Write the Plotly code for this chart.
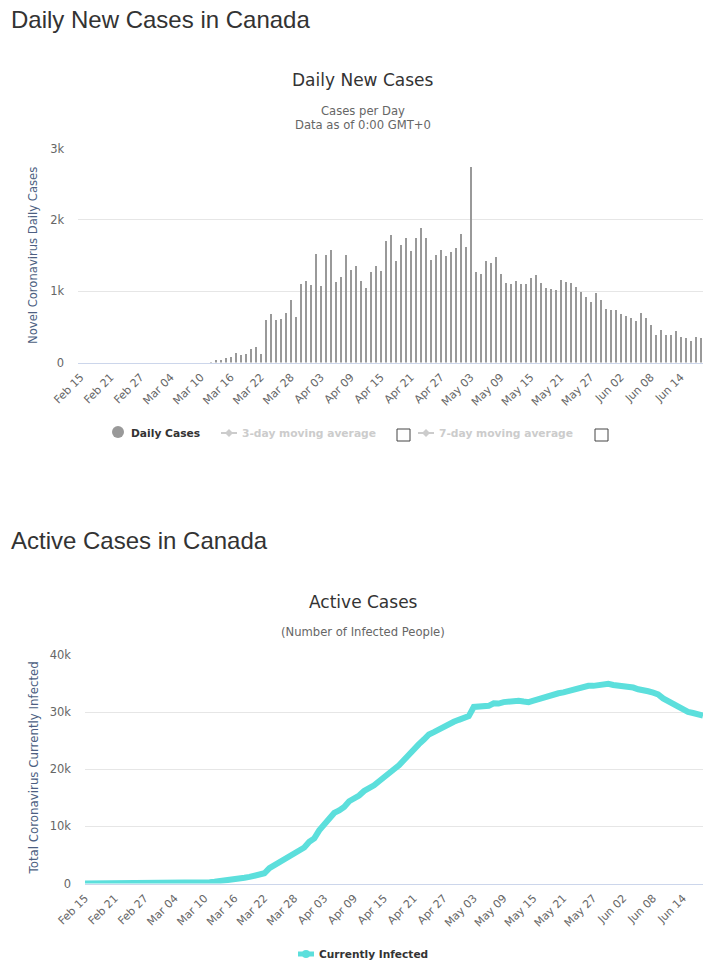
import plotly.graph_objects as go
import pandas as pd

W, H = 715, 966

dates = pd.date_range("2020-02-15", periods=125)
date_labels = [d.strftime("%b %d") for d in dates]
tick_labels = date_labels[::6]

daily_cases = [0]*26 + [
    14, 42, 42, 70, 84, 140, 112, 126, 197, 225, 126, 605, 690, 605, 620, 703, 886, 647,
    1111, 1153, 1097, 1533, 1083, 1519, 1589, 1139, 1210, 1519, 1308, 1364, 1153, 1055,
    1280, 1364, 1294, 1716, 1800, 1434, 1660, 1758, 1575, 1758, 1899, 1758, 1448, 1519,
    1589, 1505, 1561, 1617, 1815, 1632, 2745, 1280, 1252, 1434, 1406, 1491, 1252, 1125,
    1111, 1153, 1111, 1111, 1195, 1238, 1125, 1055, 1040, 1026, 1167, 1139, 1125, 1069,
    1000, 928, 858, 985, 886, 760, 745, 745, 689, 661, 633, 590, 703, 633, 534, 394, 464,
    394, 394, 450, 366, 352, 309, 366, 352]
daily_cases = daily_cases[:125]

active_cases = [10, 10, 10, 10, 10, 10, 10, 20, 20, 20, 20, 20, 20, 25, 25, 30, 30, 35, 40, 50,
    60, 80, 100, 150, 200, 240, 300, 380, 480, 580, 700, 850, 1000, 1150, 1350, 1550, 1800,
    2700, 3200, 3650, 4100, 4800, 5400, 5800, 6300, 7300, 7900, 9300, 10300, 11300, 12350, 12800,
    13400, 14400, 14800, 15400, 16200, 16600, 17200, 17900, 18500, 19300, 20000, 20700, 21700,
    22700, 23600, 24400, 25200, 26100, 26500, 27000, 27600, 28000, 28300, 28650, 28950, 29300,
    30900, 31000, 31050, 31100, 31550, 31500, 31750, 31900, 32000, 32000, 31850, 31750, 32000,
    32300, 32600, 32900, 33100, 33300, 33450, 33650, 33950, 34300, 34500, 34600, 34600, 34800,
    34900, 34950, 34750, 34650, 34650, 34550, 34300, 34000, 33700, 33650, 33400, 33100, 32400,
    31900, 31500, 31050, 30550, 30050, 29850, 29650, 29400]
active_cases = active_cases[:125]

y_ticks_daily = [0, 1000, 2000, 3000]
y_labels_daily = ["0", "1k", "2k", "3k"]
y_ticks_active = [0, 10000, 20000, 30000, 40000]
y_labels_active = ["0", "10k", "20k", "30k", "40k"]

TXT = "#666666"
AX_TITLE = "#4d5f82"
FONT = "DejaVu Sans"
HEAD = "Liberation Sans"
TEAL = "#5cdfdc"

def px(x): return x / W
def py(y): return 1 - y / H

fig = go.Figure()
fig.add_bar(x=date_labels, y=daily_cases, marker=dict(color="#999999", line_width=0),
            width=0.4, xaxis="x", yaxis="y", showlegend=False)
fig.add_scatter(x=date_labels, y=active_cases, mode="lines",
                line=dict(color=TEAL, width=6, shape="linear"),
                xaxis="x2", yaxis="y2", showlegend=False)

def xa(dom):
    return dict(domain=dom, type="category", categoryorder="array", categoryarray=date_labels,
                tickmode="array", tickvals=tick_labels, ticktext=tick_labels, tickangle=-45,
                tickfont=dict(family=FONT, size=11, color=TXT), showgrid=False, zeroline=False,
                showline=True, linecolor="#ccd6eb", linewidth=1, ticks="", automargin=False,
                ticklabelstandoff=3)

def ya(dom, rng, tv, tt):
    return dict(domain=dom, range=rng, tickmode="array", tickvals=tv, ticktext=tt,
                tickfont=dict(family=FONT, size=11.5, color=TXT), showgrid=True, gridcolor="#e6e6e6",
                gridwidth=1, zeroline=False, showline=False, ticks="", automargin=False,
                ticklabelstandoff=13)

ann = []
def text(x, y, s, size, color, anchor="center", family=FONT, bold=False, angle=0):
    ann.append(dict(x=px(x), y=py(y), xref="paper", yref="paper", text=f"<b>{s}</b>" if bold else s,
                    showarrow=False, xanchor=anchor, yanchor="middle", textangle=angle,
                    font=dict(family=family, size=size, color=color)))

text(9, 20, "Daily New Cases in Canada", 24, "#333333", "left", HEAD)
text(9, 540, "Active Cases in Canada", 24, "#333333", "left", HEAD)
text(363, 80, "Daily New Cases", 17, "#333333")
text(363, 111, "Cases per Day", 11.6, TXT)
text(363, 125, "Data as of 0:00 GMT+0", 11.6, TXT)
text(363, 602, "Active Cases", 17, "#333333")
text(363, 632, "(Number of Infected People)", 11.6, TXT)
text(33, 256, "Novel Coronavirus Daily Cases", 11.6, AX_TITLE, angle=-90)
text(33, 768.5, "Total Coronavirus Currently Infected", 11.8, AX_TITLE, angle=-90)

text(129, 433, "Daily Cases", 10.7, "#333333", "left", bold=True)
text(240, 433, "3-day moving average", 10.7, "#cccccc", "left", bold=True)
text(437, 433, "7-day moving average", 10.7, "#cccccc", "left", bold=True)
text(317, 954, "Currently Infected", 10.6, "#333333", "left", bold=True)

shapes = []
def sh(kind, x0, y0, x1, y1, **kw):
    shapes.append(dict(type=kind, xref="paper", yref="paper", x0=px(x0), x1=px(x1),
                       y0=py(y0), y1=py(y1), **kw))
sh("circle", 112, 426, 124, 438, fillcolor="#999999", line_width=0)
for a, b in [(221, 237), (418, 434)]:
    c = (a + b) / 2
    sh("line", a, 433, b, 433, line=dict(color="#cccccc", width=2))
    shapes.append(dict(type="path", xref="paper", yref="paper", fillcolor="#cccccc", line_width=0,
                       path=f"M {px(c-4)} {py(433)} L {px(c)} {py(429)} L {px(c+4)} {py(433)} L {px(c)} {py(437)} Z"))
for a in (397, 595):
    sh("rect", a, 429, a+13, 441, fillcolor="white", line=dict(color="#444444", width=1))
sh("line", 298, 954, 314, 954, line=dict(color=TEAL, width=5))
sh("circle", 302, 950, 310, 958, fillcolor=TEAL, line_width=0)

fig.update_layout(
    width=W, height=H, margin=dict(l=0, r=0, t=0, b=0), paper_bgcolor="white", plot_bgcolor="white",
    bargap=0, barmode="overlay", showlegend=False, annotations=ann, shapes=shapes,
    xaxis=xa([px(78.2), px(703.2)]) | dict(anchor="y"),
    yaxis=ya([py(362.5), py(148.5)], [0, 3000], y_ticks_daily, y_labels_daily) | dict(anchor="x"),
    xaxis2=xa([px(85), px(703)]) | dict(anchor="y2"),
    yaxis2=ya([py(883.5), py(655)], [0, 40000], y_ticks_active, y_labels_active) | dict(anchor="x2"),
)

fig.write_html("out.html", config=dict(displayModeBar=False),
               post_script="document.body.style.margin='0';document.body.style.overflow='hidden';")
